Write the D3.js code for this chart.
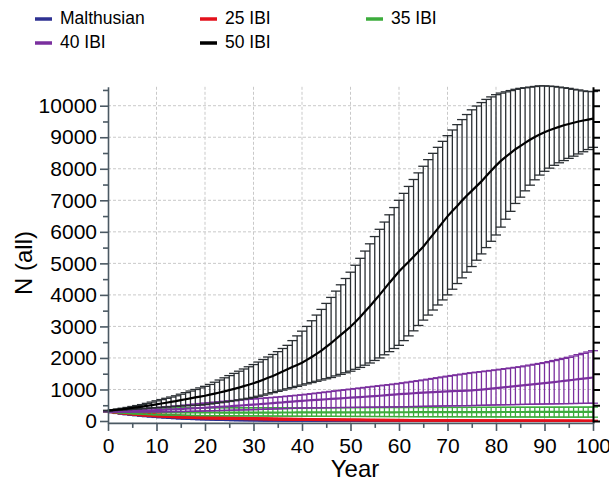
<!DOCTYPE html>
<html>
<head>
<meta charset="utf-8">
<script src="https://cdn.jsdelivr.net/npm/d3@7"></script>
<style>
body { margin: 0; background: #fff; }
text { font-family: "Liberation Sans", Arial, Helvetica, sans-serif; fill: #000; }
</style>
</head>
<body>
<div id="display"></div>
<script>
// years 0..100, one value per year for every series
const years = d3.range(0, 101);
const xTicks = d3.range(0, 101, 5);
const yTicks = d3.range(0, 10501, 500);

// 50 IBI
const ibi50Mean = [330,345,360,375,395,415,435,455,480,505,530,555,580,605,630,660,690,720,750,775,
  800,835,870,905,940,980,1020,1060,1105,1150,1200,1250,1310,1370,1430,1500,1570,1640,1710,1780,
  1850,1940,2030,2130,2230,2350,2470,2600,2730,2860,2990,3140,3300,3470,3640,3820,4000,4190,4380,4560,
  4740,4900,5050,5210,5370,5530,5720,5910,6100,6300,6490,6660,6820,6990,7150,7300,7450,7600,7770,7940,
  8100,8250,8380,8500,8620,8720,8820,8920,9010,9090,9160,9220,9280,9330,9380,9420,9460,9500,9530,9560,9590];
const ibi50Hi = [340,360,380,405,430,460,490,520,560,600,640,680,720,760,800,850,900,950,1000,1050,
  1100,1160,1230,1300,1370,1440,1510,1580,1650,1720,1790,1870,1950,2030,2110,2200,2300,2400,2550,2700,
  2850,3000,3180,3360,3540,3730,3920,4120,4320,4520,4720,4940,5160,5390,5620,5850,6080,6310,6540,6770,
  7000,7220,7440,7660,7870,8080,8290,8490,8680,8870,9050,9230,9400,9560,9720,9870,9990,10100,10200,10280,
  10350,10400,10440,10480,10520,10550,10570,10590,10610,10630,10630,10620,10610,10590,10570,10550,10520,10500,10470,10450,10450];
const ibi50Lo = [320,330,340,350,360,370,380,390,400,415,425,435,445,455,465,475,485,490,495,505,
  520,540,560,580,600,620,645,670,695,720,750,785,820,860,900,940,980,1020,1060,1100,
  1140,1180,1220,1260,1300,1340,1380,1430,1480,1530,1580,1640,1700,1770,1840,1920,2000,2100,2200,2300,
  2400,2550,2700,2860,3030,3200,3360,3520,3680,3840,4000,4180,4360,4540,4720,4900,5100,5300,5500,5700,
  5900,6150,6400,6650,6900,7100,7300,7480,7650,7800,7920,8020,8110,8190,8260,8330,8400,8470,8540,8610,8680];

// 40 IBI
const ibi40Mean = [300,303,307,311,315,320,325,330,335,340,345,352,358,365,372,380,388,396,404,412,
  420,430,440,452,460,468,480,490,500,510,520,532,544,556,570,580,590,604,616,628,
  640,650,660,670,680,690,700,712,720,730,740,750,760,770,780,790,802,814,826,838,
  850,860,870,880,890,900,908,916,924,932,940,946,952,958,964,970,984,998,1012,1026,
  1040,1056,1072,1088,1104,1120,1136,1152,1168,1184,1200,1218,1236,1254,1272,1290,1308,1326,1344,1362,1380];
const ibi40Hi = [310,320,330,340,350,360,372,384,396,408,420,434,448,462,476,490,506,522,538,554,
  570,584,598,612,626,640,652,664,676,688,700,712,724,736,748,760,774,788,802,816,
  830,848,866,884,902,920,938,956,974,992,1010,1028,1046,1064,1082,1100,1118,1136,1154,1172,
  1190,1212,1234,1256,1278,1300,1324,1348,1372,1396,1420,1442,1464,1486,1508,1530,1548,1566,1584,1602,
  1620,1640,1660,1680,1700,1720,1746,1772,1798,1824,1850,1884,1918,1952,1986,2020,2062,2104,2146,2188,2230];
const ibi40Lo = [290,288,287,286,285,285,286,287,288,289,290,292,294,296,298,300,304,308,312,316,
  320,324,328,332,336,340,344,348,352,356,360,365,370,375,380,385,390,395,400,405,
  410,412,414,416,418,420,422,424,426,428,430,432,434,436,438,440,442,444,446,448,
  450,453,456,459,462,465,468,471,474,477,480,482,484,486,488,490,494,498,502,506,
  510,513,516,519,522,525,528,531,534,537,540,542,545,547,550,552,555,557,560,562,565];

// 35 IBI
const ibi35Mean = [300,297,294,291,288,285,283,281,280,279,278,277,276,275,274,273,272,272,271,271,
  270,270,270,269,269,269,268,268,268,268,268,268,268,269,269,269,270,270,270,271,
  271,271,272,272,272,273,273,273,274,274,274,275,275,275,276,276,276,277,277,277,
  278,278,278,279,279,279,280,280,280,281,281,281,282,282,282,283,283,283,284,284,
  284,285,285,285,286,286,286,287,287,287,288,288,288,289,289,289,290,290,290,291,291];
const ibi35Hi = [310,325,340,352,362,372,380,388,395,400,405,408,410,412,414,415,416,417,418,419,
  420,420,420,421,421,421,420,420,420,420,420,421,421,421,422,422,422,422,423,423,
  423,423,424,424,424,424,425,425,425,425,426,426,426,426,427,427,427,427,428,428,
  428,428,429,429,429,429,430,430,430,431,431,431,432,432,432,433,433,433,434,434,
  434,435,435,435,436,436,436,437,437,437,438,438,438,439,439,439,440,440,440,441,441];
const ibi35Lo = [290,275,262,250,240,230,222,215,208,202,197,193,189,186,183,180,178,176,174,172,
  170,169,168,167,166,165,164,163,162,161,160,159,158,157,156,155,154,153,152,151,
  150,150,149,149,148,148,147,147,146,146,145,145,144,144,143,143,142,142,141,141,
  140,140,139,139,138,138,137,137,136,136,135,135,134,134,133,133,132,132,131,131,
  130,130,129,129,128,128,127,127,126,126,125,125,124,124,123,123,123,122,122,122,122];

// 25 IBI
const ibi25Mean = [300,284,269,255,242,230,219,208,198,189,180,172,164,156,148,140,134,128,122,116,
  110,106,102,98,94,90,87,84,81,78,75,72,69,66,63,60,58,56,54,52,
  50,48,47,45,44,42,41,39,38,36,35,34,33,32,31,30,29,28,27,26,
  25,24,24,23,22,22,21,20,20,19,18,18,17,17,17,16,16,15,15,15,
  14,14,13,13,13,12,12,12,11,11,10,10,10,10,9,9,9,9,8,8,8];
const ibi25Hi = [310,300,290,280,271,262,254,246,238,230,222,214,206,198,190,182,175,168,161,154,
  148,143,138,133,128,124,120,116,112,108,104,100,97,94,91,88,85,83,81,79,
  77,75,73,71,69,67,65,63,61,59,57,56,55,54,53,52,51,50,49,48,
  47,46,45,44,43,42,41,40,39,38,37,36,36,35,35,34,34,33,33,32,
  32,31,31,30,30,29,29,28,28,27,27,26,26,25,25,24,24,23,23,22,22];
const ibi25Lo = [290,268,248,230,213,198,184,170,158,148,138,130,122,114,106,98,93,88,83,78,
  72,69,66,63,60,56,54,52,50,48,46,44,41,38,35,32,31,29,27,25,
  23,21,21,19,19,17,17,15,15,13,13,12,11,10,9,8,7,6,5,4,
  3,2,3,2,1,2,1,0,1,0,0,0,0,0,0,0,0,0,0,0,
  0,0,0,0,0,0,0,0,0,0,0,0,0,0,0,0,0,0,0,0,0];

// Malthusian
const malMean = [300,278,258,240,224,210,197,184,172,161,150,140,131,122,113,105,98,92,86,80,
  75,70,65,60,56,52,48,45,42,39,36,34,31,29,27,25,23,22,20,19,
  17,16,15,14,13,12,11,10,10,9,8,8,7,7,6,6,5,5,5,4,
  4,4,3,3,3,3,2,2,2,2,2,2,1,1,1,1,1,1,1,1,
  1,1,1,1,1,1,1,1,1,1,1,0,0,0,0,0,0,0,0,0,0];
const malHi = [310,292,276,262,250,238,227,216,206,196,186,177,168,160,152,145,138,131,125,119,
  113,107,102,97,92,88,84,80,76,72,68,65,62,59,56,53,50,47,45,43,
  41,39,37,35,33,31,30,28,27,25,24,23,22,21,20,19,18,17,16,15,
  14,13,12,12,11,11,10,10,9,9,8,8,8,7,7,7,6,6,6,5,
  5,5,5,4,4,4,4,3,3,3,3,3,3,2,2,2,2,2,2,2,2];
const malLo = [290,264,240,218,198,182,167,152,138,126,114,103,94,84,74,65,58,53,47,41,
  37,33,28,23,20,16,12,10,8,6,4,3,0,0,0,0,0,0,0,0,
  0,0,0,0,0,0,0,0,0,0,0,0,0,0,0,0,0,0,0,0,
  0,0,0,0,0,0,0,0,0,0,0,0,0,0,0,0,0,0,0,0,
  0,0,0,0,0,0,0,0,0,0,0,0,0,0,0,0,0,0,0,0,0];

const seriesNames = ["Malthusian", "25 IBI", "35 IBI", "40 IBI", "50 IBI"];
const seriesColors = ["#2e3192", "#e3111b", "#3cac3c", "#7a2f9e", "#000000"];
const barColors = ["#2e3192", "#e3111b", "#3cac3c", "#7a2f9e", "#2a2f33"];
const seriesMean = [malMean, ibi25Mean, ibi35Mean, ibi40Mean, ibi50Mean];
const seriesHi = [malHi, ibi25Hi, ibi35Hi, ibi40Hi, ibi50Hi];
const seriesLo = [malLo, ibi25Lo, ibi35Lo, ibi40Lo, ibi50Lo];

const svg = d3.select('#display')
  .append('svg')
  .attr('width', 609)
  .attr('height', 484);

const x = d3.scaleLinear().domain([0, 100]).range([108, 593]);
const y = d3.scaleLinear().domain([-60, 10600]).range([422.9, 86.8]);

// grid
const grid = svg.append('g')
  .attr('stroke', '#c9c9c9')
  .attr('stroke-width', 1)
  .attr('stroke-dasharray', '3,2');
grid.selectAll('.vg').data(d3.range(10, 100, 10)).join('line')
  .attr('x1', d => x(d)).attr('x2', d => x(d))
  .attr('y1', y(10600)).attr('y2', y(-60));
grid.selectAll('.hg').data(d3.range(1000, 10001, 1000)).join('line')
  .attr('x1', x(0)).attr('x2', x(100))
  .attr('y1', d => y(d)).attr('y2', d => y(d));

// error bars and mean lines, one series after the other
function drawSeries(k) {
  const g = svg.append('g');
  const mean = seriesMean[k], hi = seriesHi[k], lo = seriesLo[k];
  const bars = g.append('g')
    .attr('stroke', barColors[k])
    .attr('stroke-width', 1.3);
  bars.selectAll('.bar').data(years).join('line')
    .attr('x1', d => x(d)).attr('x2', d => x(d))
    .attr('y1', d => y(lo[d])).attr('y2', d => y(hi[d]));
  bars.selectAll('.capHi').data(years).join('line')
    .attr('x1', d => x(d) - 5).attr('x2', d => x(d) + 5)
    .attr('y1', d => y(hi[d])).attr('y2', d => y(hi[d]));
  bars.selectAll('.capLo').data(years).join('line')
    .attr('x1', d => x(d) - 5).attr('x2', d => x(d) + 5)
    .attr('y1', d => y(lo[d])).attr('y2', d => y(lo[d]));

  const line = d3.line()
    .x(d => x(d))
    .y(d => y(mean[d]));
  g.append('path')
    .datum(years)
    .attr('d', line)
    .attr('fill', 'none')
    .attr('stroke', seriesColors[k])
    .attr('stroke-width', 2.2);
}
for (let k = 0; k < seriesNames.length; k++) {
  drawSeries(k);
}

// left axis
const leftAxis = svg.append('g')
  .attr('transform', `translate(${x(0)},0)`)
  .call(d3.axisLeft(y).tickValues(yTicks).tickSize(8).tickPadding(3).tickSizeOuter(0)
    .tickFormat(d => d % 1000 == 0 ? d : ''));
leftAxis.selectAll('path, line').attr('stroke', '#4b5963').attr('stroke-width', 1.6);
leftAxis.selectAll('.tick').filter(d => d % 1000 != 0).select('line').attr('x2', -5);
leftAxis.selectAll('text').attr('font-size', '21px').attr('fill', '#000')
  .style('font-family', '"Liberation Sans", Arial, sans-serif');

// right axis
const rightAxis = svg.append('g')
  .attr('transform', `translate(${x(100)},0)`)
  .call(d3.axisRight(y).tickValues(yTicks).tickSize(7).tickSizeOuter(0).tickFormat(''));
rightAxis.selectAll('path, line').attr('stroke', '#000').attr('stroke-width', 2);

// bottom axis
const bottomAxis = svg.append('g')
  .attr('transform', `translate(0,${y(-60)})`)
  .call(d3.axisBottom(x).tickValues(xTicks).tickSize(8).tickPadding(7).tickSizeOuter(0)
    .tickFormat(d => d % 10 == 0 ? d : ''));
bottomAxis.selectAll('path, line').attr('stroke', '#4b5963').attr('stroke-width', 1.6);
bottomAxis.selectAll('.tick').filter(d => d % 10 != 0).select('line').attr('y2', 5);
bottomAxis.selectAll('text').attr('font-size', '21px').attr('fill', '#000')
  .style('font-family', '"Liberation Sans", Arial, sans-serif');

// axis titles
svg.append('text')
  .attr('x', 355).attr('y', 477)
  .attr('text-anchor', 'middle')
  .attr('font-size', '24px')
  .text('Year');
svg.append('text')
  .attr('transform', 'translate(32,263) rotate(-90)')
  .attr('text-anchor', 'middle')
  .attr('font-size', '24px')
  .text('N (all)');

// legend
const legendX = [35, 200, 366, 35, 200];
const legendY = [19, 19, 19, 43, 43];
const legendOrder = [0, 1, 2, 3, 4];
const legend = svg.append('g');
legendOrder.forEach((k, i) => {
  legend.append('line')
    .attr('x1', legendX[i]).attr('x2', legendX[i] + 17)
    .attr('y1', legendY[i]).attr('y2', legendY[i])
    .attr('stroke', seriesColors[k])
    .attr('stroke-width', 3.5);
  legend.append('text')
    .attr('x', legendX[i] + 25).attr('y', legendY[i])
    .attr('dominant-baseline', 'middle')
    .attr('font-size', '17.5px')
    .text(seriesNames[k]);
});
</script>
</body>
</html>
